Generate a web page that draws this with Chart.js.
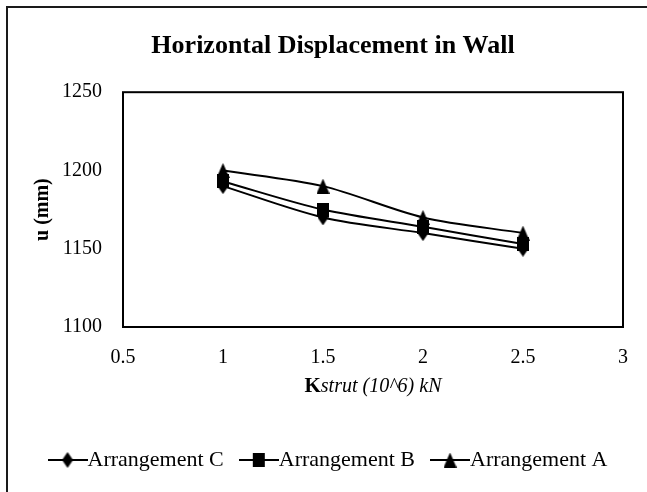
<!DOCTYPE html>
<html>
<head>
<meta charset="utf-8">
<script src="https://cdn.jsdelivr.net/npm/chart.js@4"></script>
<style>
	html, body { margin: 0; padding: 0; background: #fff; }
	#wrap { width: 647px; height: 492px; }
</style>
</head>
<body>
<div id="wrap"><canvas id="chart" width="647" height="492"></canvas></div>
<script>
const k_values = [1, 1.5, 2, 2.5];
const arrangement_c = [1190, 1170, 1160, 1150];
const arrangement_b = [1193, 1175, 1164, 1153];
const arrangement_a = [1200, 1190, 1170, 1160];
const series_names = ['Arrangement C', 'Arrangement B', 'Arrangement A'];
const x_min = 0.5, x_max = 3, x_step = 0.5;
const y_min = 1100, y_max = 1250, y_step = 50;

const serif = "'Liberation Serif', 'Times New Roman', serif";

// marker glyphs, a bit taller than wide like the original
function make_marker(shape, w, h){
	const c = document.createElement('canvas');
	c.width = w; c.height = h;
	const g = c.getContext('2d');
	g.fillStyle = '#000';
	g.beginPath();
	if(shape === 'diamond'){
		g.moveTo(w/2, 0); g.lineTo(w, h/2); g.lineTo(w/2, h); g.lineTo(0, h/2);
	} else if(shape === 'square'){
		g.rect(0, 0, w, h);
	} else {
		g.moveTo(w/2, 0); g.lineTo(w, h); g.lineTo(0, h);
	}
	g.closePath();
	g.fill();
	return c;
}

function make_legend_icon(marker){
	const w = 40, h = 18;
	const c = document.createElement('canvas');
	c.width = w; c.height = h;
	const g = c.getContext('2d');
	g.strokeStyle = '#000';
	g.lineWidth = 2;
	g.beginPath();
	g.moveTo(0, h/2); g.lineTo(w, h/2);
	g.stroke();
	g.drawImage(marker, (w - marker.width)/2, (h - marker.height)/2);
	return c;
}

const markers = [
	make_marker('diamond', 11, 16),
	make_marker('square', 12, 14),
	make_marker('triangle', 13, 15)
];
const series_values = [arrangement_c, arrangement_b, arrangement_a];

const datasets = series_values.map(function(vals, i){
	return {
		label: series_names[i],
		data: k_values.map(function(k, j){ return {x: k, y: vals[j]}; }),
		borderColor: '#000',
		backgroundColor: '#000',
		borderWidth: 2,
		tension: 0.3,
		pointStyle: markers[i],
		pointRadius: 6,
		fill: false
	};
});

const frame_plugin = {
	id: 'frame',
	beforeDraw: function(chart){
		const ctx = chart.ctx;
		ctx.save();
		ctx.fillStyle = '#fff';
		ctx.fillRect(0, 0, chart.width, chart.height);
		ctx.strokeStyle = '#1a1a1a';
		ctx.lineWidth = 2;
		ctx.strokeRect(7, 7, chart.width + 20, chart.height + 20);
		ctx.restore();
	},
	afterDraw: function(chart){
		const ctx = chart.ctx;
		const a = chart.chartArea;
		ctx.save();
		ctx.strokeStyle = '#000';
		ctx.lineWidth = 2;
		ctx.strokeRect(a.left, a.top, a.right - a.left, a.bottom - a.top);

		// x axis title: bold K + italic rest
		const y = 387;
		ctx.fillStyle = '#000';
		ctx.textBaseline = 'middle';
		ctx.font = 'bold 21px ' + serif;
		const part1 = 'K';
		const w1 = ctx.measureText(part1).width;
		ctx.font = 'italic 20px ' + serif;
		const part2 = 'strut (10^6) kN';
		const w2 = ctx.measureText(part2).width;
		const x0 = (a.left + a.right)/2 - (w1 + w2)/2;
		ctx.font = 'bold 21px ' + serif;
		ctx.textAlign = 'left';
		ctx.fillText(part1, x0, y);
		ctx.font = 'italic 20px ' + serif;
		ctx.fillText(part2, x0 + w1, y);
		ctx.restore();
	}
};

const ctx = document.getElementById('chart').getContext('2d');
new Chart(ctx, {
	type: 'line',
	data: { datasets: datasets },
	options: {
		responsive: false,
		animation: false,
		events: [],
		layout: { padding: { top: 0, right: 11, bottom: 11, left: 30 } },
		plugins: {
			title: {
				display: true,
				text: 'Horizontal Displacement in Wall',
				color: '#000',
				font: { family: serif, size: 26, weight: 'bold' },
				padding: { top: 31, bottom: 30 }
			},
			legend: {
				position: 'bottom',
				labels: {
					usePointStyle: true,
					pointStyleWidth: 18,
					color: '#000',
					font: { family: serif, size: 22 },
					padding: 26,
					generateLabels: function(chart){
						return chart.data.datasets.map(function(ds, i){
							return {
								text: ds.label,
								pointStyle: make_legend_icon(markers[i]),
								fillStyle: '#000',
								strokeStyle: '#000',
								lineWidth: 0,
								fontColor: '#000',
								datasetIndex: i
							};
						});
					}
				}
			},
			tooltip: { enabled: false }
		},
		scales: {
			x: {
				type: 'linear',
				min: x_min,
				max: x_max,
				grid: { display: false, drawTicks: false },
				border: { display: false },
				ticks: {
					stepSize: x_step,
					color: '#000',
					padding: 19,
					maxRotation: 0,
					font: { family: serif, size: 20 },
					callback: function(v){ return String(v); }
				},
				afterFit: function(scale){ scale.height = 96; }
			},
			y: {
				min: y_min,
				max: y_max,
				grid: { display: false, drawTicks: false },
				border: { display: false },
				ticks: {
					stepSize: y_step,
					color: '#000',
					padding: 21,
					font: { family: serif, size: 20 },
					callback: function(v){ return String(v); }
				},
				title: {
					display: true,
					text: 'u (mm)',
					color: '#000',
					font: { family: serif, size: 20, weight: 'bold' },
					padding: { top: 1, bottom: 0 }
				},
				afterFit: function(scale){ scale.width = 93; }
			}
		}
	},
	plugins: [frame_plugin]
});
</script>
</body>
</html>
